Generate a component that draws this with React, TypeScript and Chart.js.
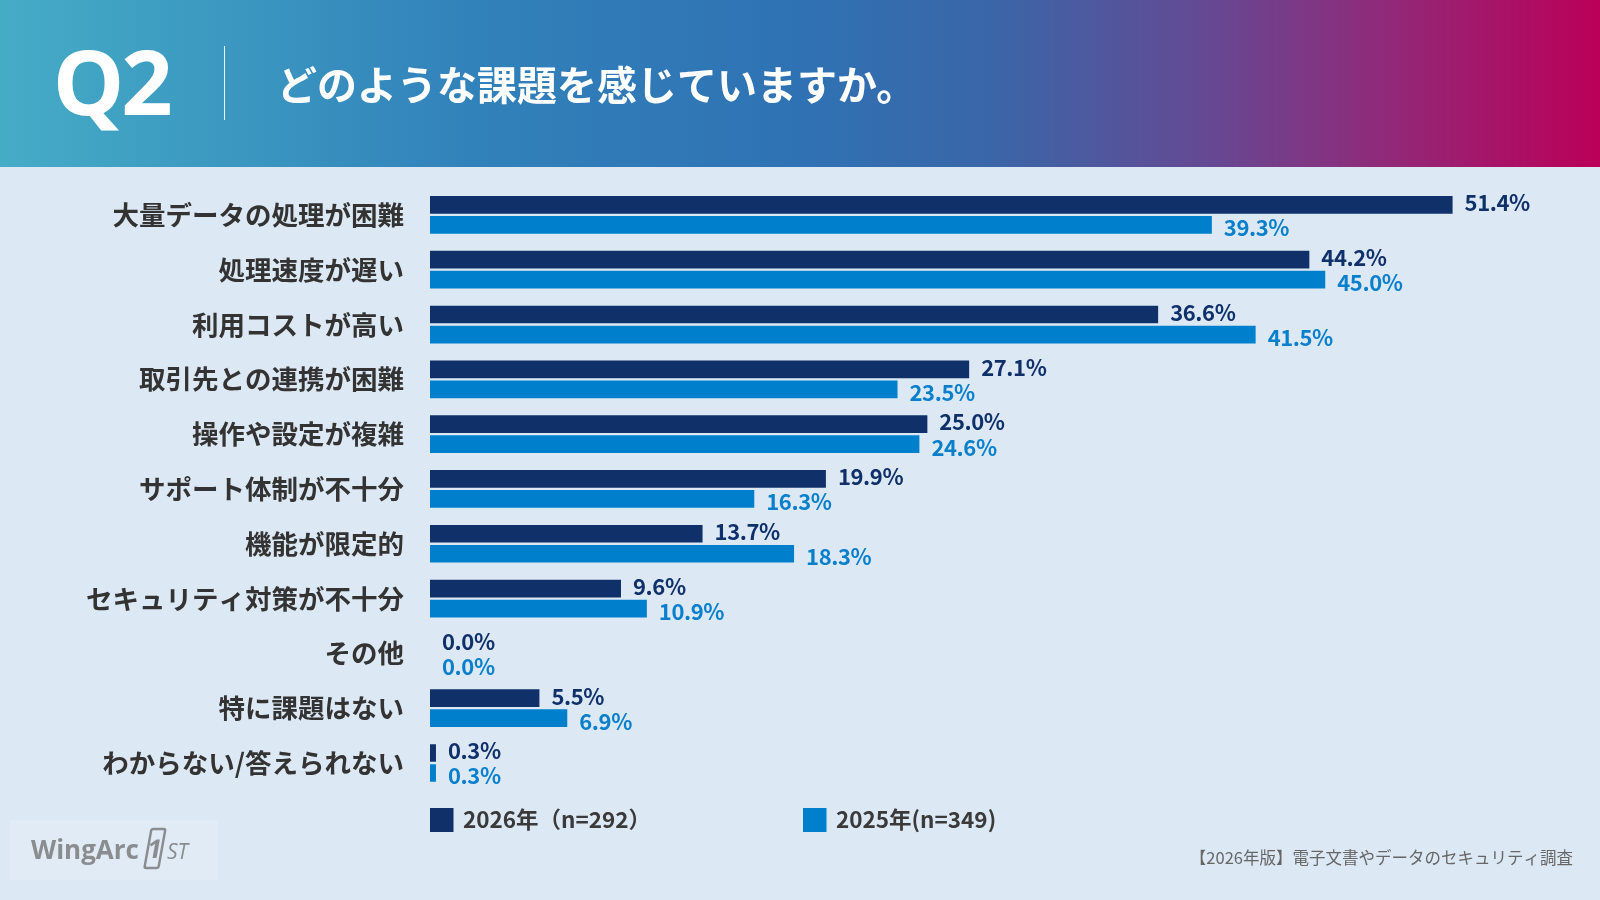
import React, { useEffect, useRef } from "react";
import { Chart, registerables } from "chart.js";

Chart.register(...registerables);

// Survey answers (categories, top to bottom)
const categories = [
  "大量データの処理が困難",
  "処理速度が遅い",
  "利用コストが高い",
  "取引先との連携が困難",
  "操作や設定が複雑",
  "サポート体制が不十分",
  "機能が限定的",
  "セキュリティ対策が不十分",
  "その他",
  "特に課題はない",
  "わからない/答えられない",
];

// Share of respondents (%)
const values2026 = [51.4, 44.2, 36.6, 27.1, 25.0, 19.9, 13.7, 9.6, 0.0, 5.5, 0.3];
const values2025 = [39.3, 45.0, 41.5, 23.5, 24.6, 16.3, 18.3, 10.9, 0.0, 6.9, 0.3];

const seriesLabels = ["2026年（n=292）", "2025年(n=349)"];
const seriesColors = ["#10306a", "#0080cc"];
const valueLabelColors = ["#10306a", "#0a80cc"];

const headerNumber = "Q2";
const headerTitle = "どのような課題を感じていますか。";
const sourceNote = "【2026年版】電子文書やデータのセキュリティ調査";

const W = 1600;
const H = 900;
const JP = '"Noto Sans CJK JP", "Noto Sans", sans-serif';

// Page furniture: background, header band, legend, logo and source note
const backdropPlugin = {
  id: "backdrop",
  beforeDraw(chart: any) {
    const ctx: CanvasRenderingContext2D = chart.ctx;
    ctx.save();
    ctx.fillStyle = "#dce9f5";
    ctx.fillRect(0, 0, W, H);

    // header band
    const g = ctx.createLinearGradient(0, 0, W, 0);
    g.addColorStop(0, "#45acc6");
    g.addColorStop(0.3, "#3181ba");
    g.addColorStop(0.5, "#2f72b3");
    g.addColorStop(0.62, "#3a66a8");
    g.addColorStop(0.75, "#634a94");
    g.addColorStop(0.86, "#8f2b7a");
    g.addColorStop(1, "#bb0058");
    ctx.fillStyle = g;
    ctx.fillRect(0, 0, W, 167);

    ctx.fillStyle = "#ffffff";
    ctx.textBaseline = "alphabetic";
    ctx.textAlign = "left";
    ctx.font = 'bold 90px "Noto Sans", sans-serif';
    (ctx as any).letterSpacing = "-3px";
    ctx.fillText(headerNumber, 53, 115);
    (ctx as any).letterSpacing = "0px";

    ctx.strokeStyle = "rgba(255,255,255,0.9)";
    ctx.lineWidth = 1;
    ctx.beginPath();
    ctx.moveTo(224.5, 46);
    ctx.lineTo(224.5, 120);
    ctx.stroke();

    ctx.font = `bold 40px ${JP}`;
    ctx.textBaseline = "middle";
    ctx.fillText(headerTitle, 277, 85);

    // legend, built from the datasets
    const legendX = [430, 803];
    chart.data.datasets.forEach((ds: any, i: number) => {
      const x = legendX[i];
      ctx.fillStyle = ds.backgroundColor;
      ctx.fillRect(x, 808, 23.5, 24);
      ctx.fillStyle = "#3a3a3a";
      ctx.font = `bold 22.5px ${JP}`;
      ctx.textBaseline = "middle";
      ctx.fillText(ds.label, x + 33, 819.5);
    });

    // source note
    ctx.fillStyle = "#666666";
    ctx.font = `16.5px ${JP}`;
    ctx.textAlign = "right";
    ctx.fillText(sourceNote, 1573, 858);

    // logo
    ctx.textAlign = "left";
    ctx.fillStyle = "rgba(255,255,255,0.12)";
    ctx.fillRect(10, 820, 208, 60);
    ctx.fillStyle = "#8a8d90";
    ctx.textBaseline = "alphabetic";
    ctx.font = 'bold 26px "Open Sans", sans-serif';
    ctx.fillText("WingArc", 31, 859);
    ctx.save();
    ctx.translate(155, 848);
    ctx.transform(1, 0, -0.18, 1, 0, 0);
    ctx.strokeStyle = "#8a8d90";
    ctx.lineWidth = 2.5;
    ctx.beginPath();
    (ctx as any).roundRect(-7, -19, 14, 39, 2);
    ctx.stroke();
    ctx.font = 'bold 26px "Open Sans", sans-serif';
    ctx.textAlign = "center";
    ctx.fillText("1", 0, 10);
    ctx.restore();
    ctx.font = 'italic 21px "Open Sans", sans-serif';
    ctx.fillText("ST", 167, 859);
    ctx.restore();
  },
};

// Percentage labels at the end of each bar
const labelShift = [-2, 3];
const valueLabelPlugin = {
  id: "valueLabels",
  afterDatasetsDraw(chart: any) {
    const ctx: CanvasRenderingContext2D = chart.ctx;
    ctx.save();
    ctx.font = `bold 22px ${JP}`;
    (ctx as any).letterSpacing = "-0.4px";
    ctx.textAlign = "left";
    ctx.textBaseline = "middle";
    chart.data.datasets.forEach((ds: any, di: number) => {
      const meta = chart.getDatasetMeta(di);
      ctx.fillStyle = valueLabelColors[di];
      meta.data.forEach((bar: any, i: number) => {
        const v = ds.data[i] as number;
        ctx.fillText(`${v.toFixed(1)}%`, bar.x + 12, bar.y + labelShift[di]);
      });
    });
    ctx.restore();
  },
};

export default function App() {
  const ref = useRef<HTMLCanvasElement | null>(null);

  useEffect(() => {
    if (!ref.current) return;
    const chart = new Chart(ref.current, {
      type: "bar",
      data: {
        labels: categories,
        datasets: [
          {
            label: seriesLabels[0],
            data: values2026,
            backgroundColor: seriesColors[0],
            categoryPercentage: 0.73,
            barPercentage: 0.885,
          },
          {
            label: seriesLabels[1],
            data: values2025,
            backgroundColor: seriesColors[1],
            categoryPercentage: 0.73,
            barPercentage: 0.885,
          },
        ],
      },
      options: {
        indexAxis: "y",
        responsive: false,
        animation: false,
        devicePixelRatio: 1,
        layout: { padding: { top: 187.5, bottom: 109.6, left: 0, right: 36 } },
        plugins: {
          legend: { display: false },
          tooltip: { enabled: false },
        },
        scales: {
          x: { display: false, min: 0, max: 57 },
          y: {
            grid: { display: false, drawTicks: false },
            border: { display: false },
            ticks: {
              padding: 26,
              color: "#333333",
              font: { family: JP, size: 26.5, weight: "bold" },
            },
            afterFit(scale: any) {
              scale.width = 430;
            },
          },
        },
      },
      plugins: [backdropPlugin, valueLabelPlugin],
    } as any);
    return () => chart.destroy();
  }, []);

  return (
    <div style={{ position: "fixed", left: 0, top: 0, width: W, height: H }}>
      <canvas ref={ref} width={W} height={H} style={{ display: "block", width: W, height: H }} />
    </div>
  );
}
